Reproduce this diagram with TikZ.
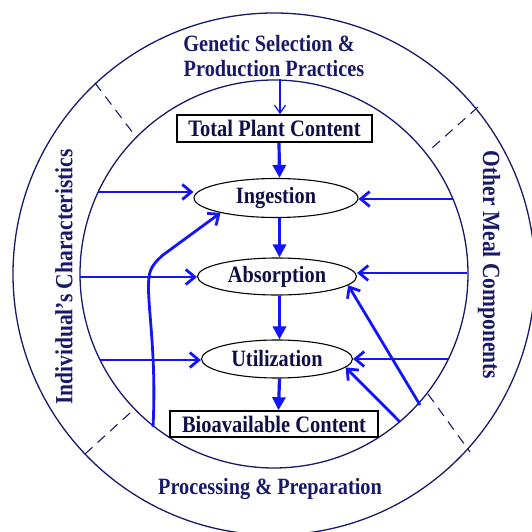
\documentclass[tikz,border=0pt]{standalone}
\usepackage{fontspec}
\setmainfont{Liberation Serif}
\usetikzlibrary{arrows.meta,shapes.geometric}
\definecolor{navy}{RGB}{25,25,105}
\definecolor{inknavy}{RGB}{15,15,70}
\definecolor{flowblue}{RGB}{20,20,250}
% taller lettering, as in the printed figure
\newcommand{\tallText}[1]{\scalebox{1}[1.15]{#1}}
\begin{document}
\begin{tikzpicture}[x=1pt,y=-1pt,
  ring/.style={draw=navy,line width=1.3pt},
  sep/.style={draw=navy,line width=1.1pt,dash pattern=on 10pt off 7pt},
  ringlabel/.style={text=navy,font=\fontsize{20.3}{25}\selectfont\bfseries,inner sep=0pt},
  sidelabel/.style={text=navy,font=\fontsize{21.5}{25}\selectfont\bfseries,inner sep=0pt},
  stage/.style={ellipse,draw=black,line width=1.1pt,inner sep=0pt,text=inknavy,font=\fontsize{20.3}{24}\selectfont\bfseries},
  box/.style={rectangle,draw=black,line width=1.5pt,inner sep=0pt,text=inknavy,font=\fontsize{20.5}{24}\selectfont\bfseries},
  flow/.style={draw=flowblue,line width=3.2pt,-{Triangle[length=13pt,width=13pt]}},
  side/.style={draw=flowblue,line width=2.8pt,-{Straight Barb[length=9pt,width=15pt]}},
  thin/.style={draw=flowblue,line width=1.3pt,-{Straight Barb[length=8pt,width=11pt]}}
]
\useasboundingbox (0,0) rectangle (531,532);

% rings
\coordinate (O) at (274,274);
\draw[ring] (O) circle[radius=261pt];
\draw[ring] (O) circle[radius=194pt];

% dashed separators between the rings
\draw[sep] (95,83) -- (133,133);
\draw[sep] (478,107) -- (432,148);
\draw[sep] (85,454) -- (130,413);
\draw[sep] (428,394) -- (470,452);

% ring labels
\node[ringlabel] (gen1) at (269,44) {\tallText{Genetic Selection \&}};
\node[ringlabel] (gen2) at (274,68.5) {\tallText{Production Practices}};
\node[sidelabel,rotate=90] (ind) at (64,277) {\tallText{Individual’s Characteristics}};
\node[sidelabel,rotate=-90] (oth) at (489,265) {\tallText{Other Meal Components}};
\node[ringlabel] (proc) at (270,489) {\tallText{Processing \& Preparation}};

% central chain
\node[box,minimum width=195pt,minimum height=27pt] (tpc) at (274.5,128.5) {\tallText{Total Plant Content}};
\node[stage,minimum width=164pt,minimum height=39pt] (ing) at (276,198) {\tallText{Ingestion}};
\node[stage,minimum width=159pt,minimum height=37pt] (abs) at (277,276.5) {\tallText{Absorption}};
\node[stage,minimum width=151pt,minimum height=38pt] (uti) at (277,359) {\tallText{Utilization}};
\node[box,minimum width=208pt,minimum height=26pt] (bio) at (274,424) {\tallText{Bioavailable Content}};

\draw[flow] ([xshift=4.5pt]tpc.south) -- ([xshift=3.5pt]ing.north);
\draw[flow] ([xshift=3.5pt]ing.south) -- ([xshift=2.5pt]abs.north);
\draw[flow] ([xshift=2.5pt]abs.south) -- ([xshift=2.5pt]uti.north);
\draw[flow] ([xshift=2.5pt]uti.south) -- ([xshift=4.5pt]bio.north);

% input from the top ring
\coordinate (gtop) at (280,79);
\draw[thin] (gtop) -- (tpc.north -| gtop);

% inputs from the left ring
\coordinate (l1) at (98,192);
\coordinate (l2) at (80,277);
\coordinate (l3) at (100,360);
\draw[side] (l1) -- (l1 -| ing.west);
\draw[side] (l2) -- (l2 -| abs.west);
\draw[side] (l3) -- (l3 -| uti.west);

% inputs from the right ring
\coordinate (r1) at (453,199);
\coordinate (r2) at (467,273);
\coordinate (r3) at (448,359);
\draw[side] (r1) -- (r1 -| ing.east);
\draw[side] (r2) -- (r2 -| abs.east);
\draw[side] (r3) -- (r3 -| uti.east);

% inputs from the bottom ring
\coordinate (b1) at (153,427);
\coordinate (d1) at (420,405);
\coordinate (d2) at (400,422);
\draw[side] (b1) .. controls (157,350) and (146,300) .. (149,277)
  .. controls (150,268) and (155,262) .. (163,255) -- (ing.195);
\draw[side] (d1) -- (abs.-7);
\draw[side] (d2) -- (uti.-7);
\end{tikzpicture}
\end{document}
